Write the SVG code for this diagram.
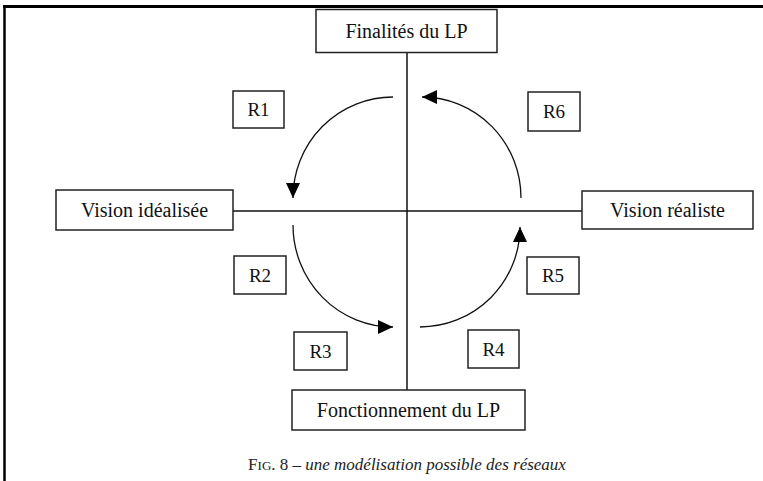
<svg xmlns="http://www.w3.org/2000/svg" width="763" height="481" viewBox="0 0 763 481">
<style>
  .box{fill:#fff;stroke:#222;stroke-width:1.5}
  text{font-family:'Liberation Serif','Times New Roman','DejaVu Serif',serif}
  .lbl{font-size:20px;fill:#111;text-anchor:middle}
  .rl{font-size:19px;fill:#111;text-anchor:middle}
  .axis{stroke:#111;stroke-width:1.5;fill:none}
  .arc{stroke:#111;stroke-width:1.3;fill:none;marker-end:url(#ah)}
  .cap{font-size:17px;fill:#222;text-anchor:middle}
</style>
<defs>
  <marker id="ah" markerUnits="userSpaceOnUse" markerWidth="16" markerHeight="14" refX="15" refY="7" orient="auto">
    <path d="M0,0 L15,7 L0,14 Z" fill="#000"/>
  </marker>
</defs>
<rect x="0" y="0" width="763" height="481" fill="#fff"/>
<g id="frame">
  <line x1="3" y1="6.5" x2="763" y2="6.5" stroke="#000" stroke-width="3"/>
  <line x1="4.5" y1="5" x2="4.5" y2="481" stroke="#000" stroke-width="2.5"/>
</g>
<g id="connectors">
  <line class="axis" x1="407" y1="53" x2="407" y2="390"/>
  <line class="axis" x1="233" y1="211" x2="582" y2="211"/>
  <path class="arc" d="M393,97 A100,101 0 0 0 293,198"/>
  <path class="arc" d="M521,198 A99,101 0 0 0 422,97"/>
  <path class="arc" d="M293,225 A100,102 0 0 0 393,327"/>
  <path class="arc" d="M420,327 A100,100 0 0 0 520,227"/>
</g>
<g id="n-finalites">
  <rect class="box" x="316" y="9.5" width="181" height="43"/>
  <text class="lbl" x="406.5" y="38" font-family="Liberation Serif, serif">Finalités du LP</text>
</g>
<g id="n-idealisee">
  <rect class="box" x="56" y="190" width="177" height="40"/>
  <text class="lbl" x="144.5" y="217" font-family="Liberation Serif, serif">Vision idéalisée</text>
</g>
<g id="n-realiste">
  <rect class="box" x="582" y="191" width="171" height="38"/>
  <text class="lbl" x="667.5" y="217" font-family="Liberation Serif, serif">Vision réaliste</text>
</g>
<g id="n-fonctionnement">
  <rect class="box" x="292" y="390" width="233" height="40"/>
  <text class="lbl" x="408.5" y="417" font-family="Liberation Serif, serif">Fonctionnement du LP</text>
</g>
<g id="n-r1">
  <rect class="box" x="233" y="91" width="51" height="37"/>
  <text class="rl" x="258.5" y="116" font-family="Liberation Serif, serif">R1</text>
</g>
<g id="n-r6">
  <rect class="box" x="528" y="92" width="52" height="39"/>
  <text class="rl" x="554" y="118" font-family="Liberation Serif, serif">R6</text>
</g>
<g id="n-r2">
  <rect class="box" x="234" y="256" width="52" height="38"/>
  <text class="rl" x="260" y="282" font-family="Liberation Serif, serif">R2</text>
</g>
<g id="n-r5">
  <rect class="box" x="527" y="257" width="52" height="37"/>
  <text class="rl" x="553" y="282" font-family="Liberation Serif, serif">R5</text>
</g>
<g id="n-r3">
  <rect class="box" x="294" y="332" width="53" height="38"/>
  <text class="rl" x="320.5" y="358" font-family="Liberation Serif, serif">R3</text>
</g>
<g id="n-r4">
  <rect class="box" x="468" y="330" width="51" height="38"/>
  <text class="rl" x="493.5" y="356" font-family="Liberation Serif, serif">R4</text>
</g>
<g id="caption">
  <text class="cap" x="407" y="470" font-family="Liberation Serif, serif">F<tspan font-size="13">IG</tspan>. 8 – <tspan font-style="italic">une modélisation possible des réseaux</tspan></text>
</g>
</svg>
